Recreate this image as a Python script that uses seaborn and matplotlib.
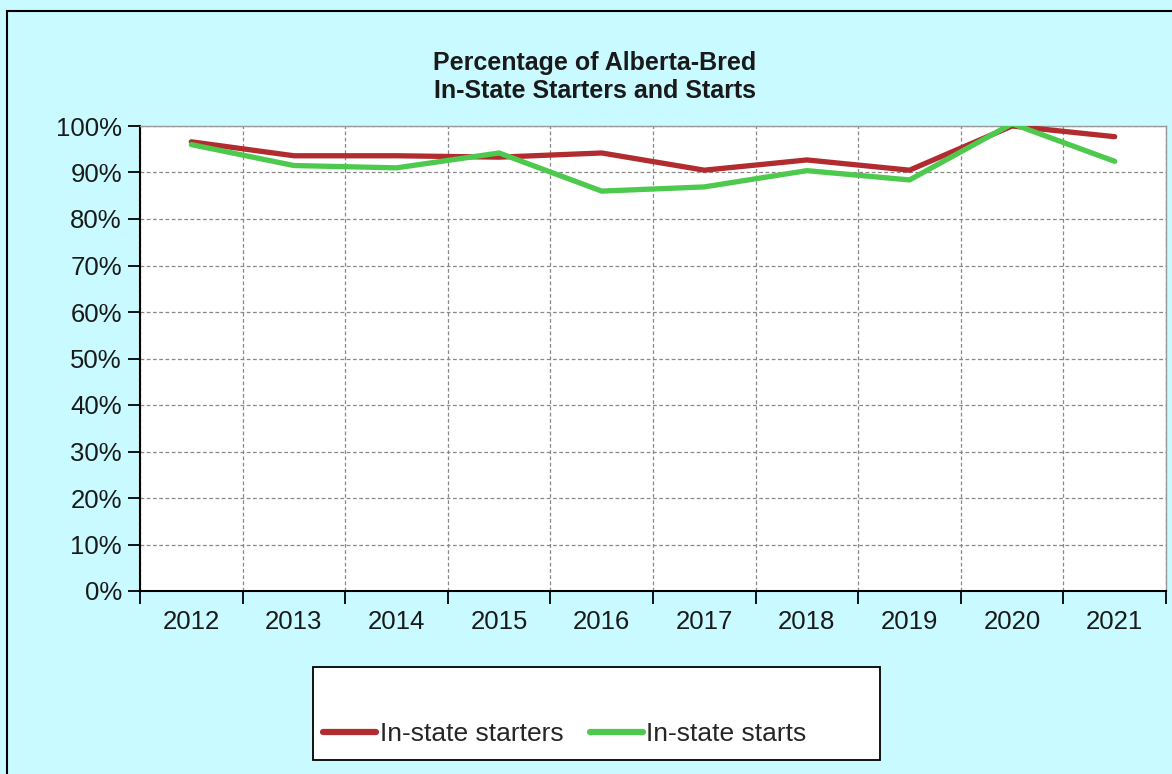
import numpy as np
import pandas as pd
import matplotlib
matplotlib.use('Agg')
import matplotlib.pyplot as plt
import seaborn as sns
from matplotlib.patches import Rectangle
from matplotlib.lines import Line2D
from matplotlib.ticker import FixedLocator, NullFormatter

years = ['2012', '2013', '2014', '2015', '2016', '2017', '2018', '2019', '2020', '2021']
starters = [96.6, 93.6, 93.6, 93.3, 94.2, 90.5, 92.7, 90.5, 100.0, 97.7]
starts = [96.0, 91.5, 91.0, 94.2, 86.0, 86.9, 90.4, 88.4, 100.5, 92.4]
y_ticks = [0, 10, 20, 30, 40, 50, 60, 70, 80, 90, 100]

RED = '#B22B2F'
GREEN = '#4DC94D'
BG = '#C8FAFF'

sns.set_style('white')
plt.rcParams['font.family'] = ['Liberation Sans', 'DejaVu Sans']

df = pd.DataFrame({
    'idx': list(range(len(years))) * 2,
    'value': starters + starts,
    'series': ['In-state starters'] * len(years) + ['In-state starts'] * len(years),
})

W, H = 1172, 774
fig = plt.figure(figsize=(W / 100, H / 100), dpi=100)
fig.patch.set_facecolor(BG)

# outer frame
fig.patches.append(Rectangle((7 / W, -0.01), (W - 7) / W + 0.02, (H - 11) / H + 0.01,
                             transform=fig.transFigure, fill=False,
                             edgecolor='black', linewidth=1.5))

ax = fig.add_axes([140 / W, 1 - 591 / H, (1166 - 140) / W, (591 - 126) / H])
ax.set_facecolor('white')

sns.lineplot(data=df, x='idx', y='value', hue='series',
             palette={'In-state starters': RED, 'In-state starts': GREEN},
             linewidth=3.8, legend=False, ax=ax, zorder=3)

ax.set_xlim(-0.5, len(years) - 0.5)
ax.set_ylim(0, 100)

# category boundaries as major ticks, labels at centres
ax.xaxis.set_major_locator(FixedLocator(np.arange(-0.5, len(years), 1.0)))
ax.xaxis.set_major_formatter(NullFormatter())
ax.set_xticks(np.arange(len(years)), years, minor=True)
ax.tick_params(axis='x', which='major', length=9, width=1.3, color='black',
               direction='out', bottom=True)
ax.tick_params(axis='x', which='minor', length=0, pad=14, labelsize=18.5,
               labelcolor='#1a1a1a')

ax.set_yticks(y_ticks, [f'{v}%' for v in y_ticks])
ax.tick_params(axis='y', length=9, width=1.3, color='black', direction='out',
               left=True, labelsize=18.5, labelcolor='#1a1a1a', pad=4)

ax.grid(True, which='major', linestyle=(0, (3, 2)), color='#888888', linewidth=0.9)
ax.set_axisbelow(True)
ax.set_xlabel('')
ax.set_ylabel('')

for s in ['left', 'bottom']:
    ax.spines[s].set_color('black')
    ax.spines[s].set_linewidth(1.5)
for s in ['top', 'right']:
    ax.spines[s].set_color('#999999')
    ax.spines[s].set_linewidth(1)

fig.text(595 / W, 1 - 77 / H, 'Percentage of Alberta-Bred\nIn-State Starters and Starts',
         ha='center', va='center', fontsize=18, fontweight='bold', color='#1a1a1a',
         linespacing=1.25)

# legend box
fig.patches.append(Rectangle((313 / W, 1 - 760 / H), (880 - 313) / W, (760 - 667) / H,
                             transform=fig.transFigure, facecolor='white',
                             edgecolor='black', linewidth=1.3, zorder=1))
handles = [Line2D([0], [0], color=RED, linewidth=4.5),
           Line2D([0], [0], color=GREEN, linewidth=4.5)]
fig.legend(handles, ['In-state starters', 'In-state starts'],
           loc='center left', bbox_to_anchor=(323 / W, 1 - 734 / H), ncol=2,
           frameon=False, fontsize=19, handlelength=2.0, handletextpad=0.15,
           columnspacing=1.0, borderaxespad=0, borderpad=0)

fig.savefig('out.png', dpi=100, facecolor=BG)
